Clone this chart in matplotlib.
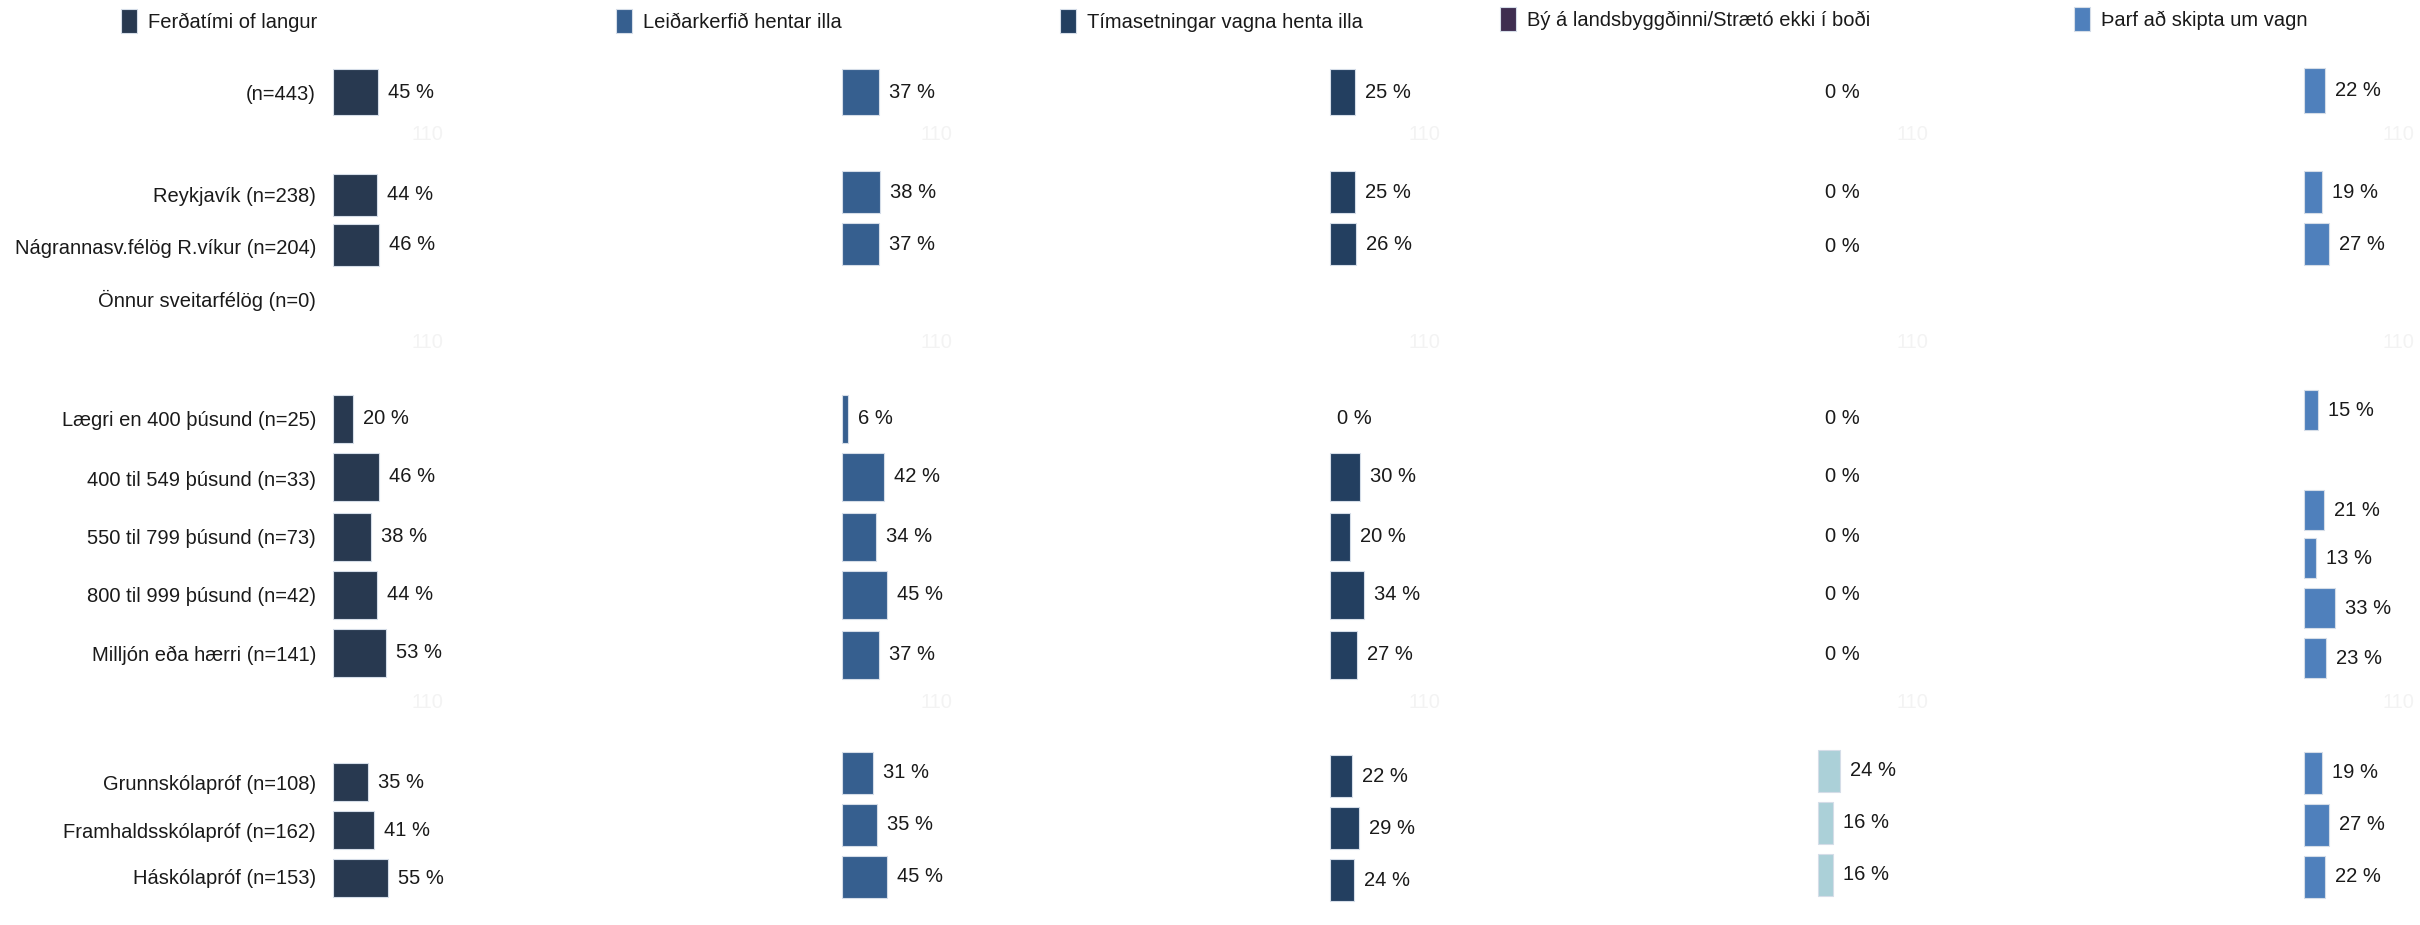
import matplotlib
matplotlib.use("Agg")
import matplotlib.pyplot as plt
from matplotlib.patches import Rectangle

plt.rcParams['font.family'] = ['Liberation Sans', 'DejaVu Sans']

# ---------------- data ----------------
categories = ["(n=443)", "Reykjavík (n=238)", "Nágrannasv.félög R.víkur (n=204)",
              "Önnur sveitarfélög (n=0)", "Lægri en 400 þúsund (n=25)",
              "400 til 549 þúsund (n=33)", "550 til 799 þúsund (n=73)",
              "800 til 999 þúsund (n=42)", "Milljón eða hærri (n=141)",
              "Grunnskólapróf (n=108)", "Framhaldsskólapróf (n=162)",
              "Háskólapróf (n=153)"]

series_names = ["Ferðatími of langur", "Leiðarkerfið hentar illa",
                "Tímasetningar vagna henta illa",
                "Bý á landsbyggðinni/Strætó ekki í boði",
                "Þarf að skipta um vagn"]

ferdatimi = [45, 44, 46, None, 20, 46, 38, 44, 53, 35, 41, 55]
leidarkerfid = [37, 38, 37, None, 6, 42, 34, 45, 37, 31, 35, 45]
timasetningar = [25, 25, 26, None, 0, 30, 20, 34, 27, 22, 29, 24]
landsbyggd = [0, 0, 0, None, 0, 0, 0, 0, 0, 24, 16, 16]
skipta = [22, 19, 27, None, 15, 21, 13, 33, 23, 19, 27, 22]
series = [ferdatimi, leidarkerfid, timasetningar, landsbyggd, skipta]

# ---------------- style / layout ----------------
W, H = 2420, 925
bar_colors = ['#283950', '#365f8f', '#233f60', '#abd0d8', '#4f80bc']
legend_colors = ['#283950', '#365f8f', '#233f60', '#3e2d50', '#4f80bc']
panel_left = [333, 842, 1330, 1818, 2304]        # px, bar origin
px_per_pct = [1.0, 0.99, 1.0, 0.93, 0.94]

# row centres (px from top) and bar heights, per panel
row_y = [
    [92, 195, 245, 300, 419, 477, 537, 595, 653, 782, 830, 878],
    [92, 192, 244, 300, 419, 477, 537, 595, 655, 773, 825, 877],
    [92, 192, 244, 300, 419, 477, 537, 595, 655, 776, 828, 880],
    [92, 193, 246, 300, 418, 477, 537, 595, 655, 771, 823, 875],
    [90, 192, 244, 300, 410, 510, 558, 608, 658, 773, 825, 877],
]
row_h = [
    [46, 42, 42, 0, 48, 48, 48, 48, 48, 38, 38, 38],
    [46, 42, 42, 0, 48, 48, 48, 48, 48, 42, 42, 42],
    [46, 42, 42, 0, 48, 48, 48, 48, 48, 42, 42, 42],
    [46, 42, 42, 0, 48, 48, 48, 48, 48, 42, 42, 42],
    [45, 42, 42, 0, 40, 40, 40, 40, 40, 42, 42, 42],
]
label_y = [95, 197, 248, 300, 421, 480, 538, 597, 655, 784, 832, 879]
faint_y = [135, 343, 703]

legend_sq = [(121, 9), (616, 9), (1060, 9), (1500, 7), (2074, 7)]
FS = 14.5

fig = plt.figure(figsize=(W / 100, H / 100), dpi=100)
fig.patch.set_facecolor('white')

for p in range(5):
    width_px = 100 * px_per_pct[p]
    ax = fig.add_axes([panel_left[p] / W, 0, width_px / W, 1])
    ax.set_xlim(0, 100)
    ax.set_ylim(H, 0)
    ax.axis('off')
    vals = series[p]
    for i, v in enumerate(vals):
        if v is None:
            continue
        y = row_y[p][i]
        if v > 0:
            ax.barh(y, v, height=row_h[p][i], left=0, color=bar_colors[p],
                    edgecolor='#d5dde8', linewidth=0.8, clip_on=False)
        off = 10 if v > 0 else 7
        ax.annotate(f"{v} %", xy=(v, y), xytext=(off, 0),
                    textcoords='offset pixels', ha='left', va='center',
                    fontsize=FS, color='#1a1a1a', annotation_clip=False)
    # nearly invisible axis remnants
    for fy in faint_y:
        ax.annotate("110", xy=(0, fy), xytext=(110, 0), textcoords='offset pixels',
                    ha='right', va='center', fontsize=FS, color='#f3f3f3',
                    annotation_clip=False)
    if p == 0:
        for i, lab in enumerate(categories):
            ax.annotate(lab, xy=(0, label_y[i]), xytext=(-17, 0),
                        textcoords='offset pixels', ha='right', va='center',
                        fontsize=FS, color='#1a1a1a', annotation_clip=False)

# legend across the top
for p, name in enumerate(series_names):
    x0, y0 = legend_sq[p]
    fig.add_artist(Rectangle((x0 / W, 1 - (y0 + 24) / H), 16 / W, 24 / H,
                             transform=fig.transFigure, facecolor=legend_colors[p],
                             edgecolor='#d5dde8', linewidth=0.8))
    fig.text((x0 + 27) / W, 1 - (y0 + 13) / H, name, ha='left', va='center',
             fontsize=FS, color='#1a1a1a')

fig.savefig("out.png", dpi=100, facecolor='white')
